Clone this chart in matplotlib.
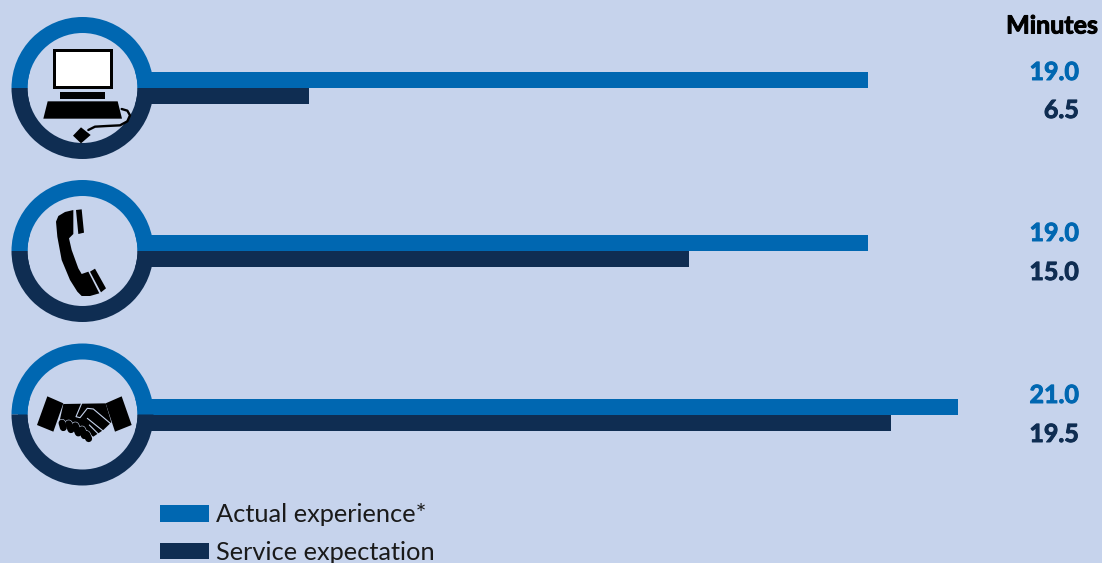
import numpy as np
import matplotlib
matplotlib.use('Agg')
import matplotlib.pyplot as plt
import matplotlib.patheffects as pe
from matplotlib.patches import Wedge, Circle, Polygon, Rectangle

W, H = 1102, 563

# minutes by channel: computer, phone, in person
actual = [19.0, 19.0, 21.0]
expected = [6.5, 15.0, 19.5]
actual_labels = ['19.0', '19.0', '21.0']
expected_labels = ['6.5', '15.0', '19.5']
legend_names = ['Actual experience*', 'Service expectation']
unit_title = 'Minutes'

BG = '#C6D3EC'
BLUE = '#0067B1'
NAVY = '#0F2D52'
BLACK = '#000000'

plt.rcParams['font.family'] = ['Lato', 'DejaVu Sans']

fig = plt.figure(figsize=(W / 100, H / 100), dpi=100, facecolor=BG)

# bars on a minutes axis
x_per_min = 44.76
x_zero = 18.0
row_y = [88.0, 251.0, 414.5]
row_gap = 163.25
bar_h = 16.0 / row_gap

ax = fig.add_axes([0, 0, 1, 1])
ax.set_xlim(-x_zero / x_per_min, (W - x_zero) / x_per_min)
ax.set_ylim((H - row_y[0]) / row_gap, -row_y[0] / row_gap)
ax.axis('off')
rows = np.arange(3)
ax.barh(rows, actual, height=-bar_h, align='edge', color=BLUE, linewidth=0)
ax.barh(rows, expected, height=bar_h, align='edge', color=NAVY, linewidth=0)

# everything else sits on a pixel grid above the bars
px = fig.add_axes([0, 0, 1, 1])
px.set_xlim(0, W)
px.set_ylim(H, 0)
px.axis('off')
px.patch.set_alpha(0)

for cy in row_y:
    px.add_patch(Wedge((82.5, cy), 71, 180, 360, width=16, color=BLUE, linewidth=0))
    px.add_patch(Wedge((82.5, cy), 71, 0, 180, width=16, color=NAVY, linewidth=0))
    px.add_patch(Circle((82.5, cy), 55, color=BG, linewidth=0, zorder=0.5))


def shape(points, y0=0, color=BLACK, **kw):
    # outlines are noted at 3x, relative to the top of their row
    pts = [(a / 3, y0 + b / 3) for a, b in points]
    px.add_patch(Polygon(pts, closed=True, facecolor=color, edgecolor='none', zorder=3, **kw))


def stroke(points, y0=0, color=BLACK, lw=1.0, z=4):
    xs = [a / 3 for a, b in points]
    ys = [y0 + b / 3 for a, b in points]
    px.plot(xs, ys, color=color, lw=lw, zorder=z, solid_capstyle='round', solid_joinstyle='round')


def heavy(x, y, s, color):
    # Lato Bold thickened a little with an outline of the same colour
    px.text(x, y, s, color=color, fontsize=18, fontweight='bold', ha='right', va='center',
            path_effects=[pe.withStroke(linewidth=0.7, foreground=color)])


# computer
shape([(159, 147), (339, 147), (339, 268), (159, 268)])
shape([(169, 157), (329, 157), (329, 257), (169, 257)], color='#FFFFFF')
shape([(180, 275), (314, 275), (314, 297), (180, 297)])
shape([(143, 304), (353, 304), (366, 356), (130, 356)])
shape([(219, 407), (243, 382), (272, 405), (243, 430)])
stroke([(265, 390), (285, 380), (320, 378), (360, 376), (382, 364), (390, 346), (382, 332), (365, 327)], lw=1.7)

# phone
y2 = 170
shape([(220, 120), (195, 126), (175, 138), (168, 155), (172, 200), (185, 270), (210, 330),
       (232, 365), (245, 378), (270, 378), (298, 370), (265, 305), (245, 312), (235, 295),
       (215, 240), (207, 205), (220, 192)], y2)
shape([(228, 120), (245, 118), (252, 188), (235, 192)], y2)
shape([(270, 305), (285, 296), (318, 355), (303, 367)], y2)

# handshake
y3 = 335
shape([(142, 184), (190, 205), (160, 290), (111, 270)], y3)
shape([(317, 205), (365, 184), (395, 270), (345, 290)], y3)
shape([(190, 207), (317, 205), (334, 262), (310, 285), (280, 305), (240, 280), (210, 265), (178, 262)], y3)
fingers = [((186, 264), (190, 278)), ((206, 266), (213, 284)), ((226, 272), (235, 294)),
           ((246, 284), (253, 302)), ((260, 298), (266, 311))]
for a, b in fingers:
    stroke([a, b], y3, color=BG, lw=5.8, z=3.4)
    stroke([a, b], y3, color=BLACK, lw=5.0, z=3.5)
stroke([(245, 205), (228, 245), (240, 248), (262, 220), (280, 222), (332, 266)], y3, color=BG, lw=0.8)
stroke([(262, 250), (312, 290)], y3, color=BG, lw=0.8)
stroke([(268, 270), (298, 300)], y3, color=BG, lw=0.8)

# value labels
actual_y = [72.5, 233.5, 395.5]
expected_y = [110.5, 272.5, 434.5]
for s, y in zip(actual_labels, actual_y):
    heavy(1079, y, s, BLUE)
for s, y in zip(expected_labels, expected_y):
    heavy(1079, y, s, NAVY)
heavy(1098, 26, unit_title, BLACK)

# legend
px.add_patch(Rectangle((160, 505), 49, 17, color=BLUE, linewidth=0))
px.add_patch(Rectangle((160, 543), 49, 16, color=NAVY, linewidth=0))
px.text(216, 514, legend_names[0], color='#1A1A1A', fontsize=18.3, ha='left', va='center')
px.text(216, 552, legend_names[1], color='#1A1A1A', fontsize=18.3, ha='left', va='center')

fig.savefig('out.png', dpi=100, facecolor=BG)
